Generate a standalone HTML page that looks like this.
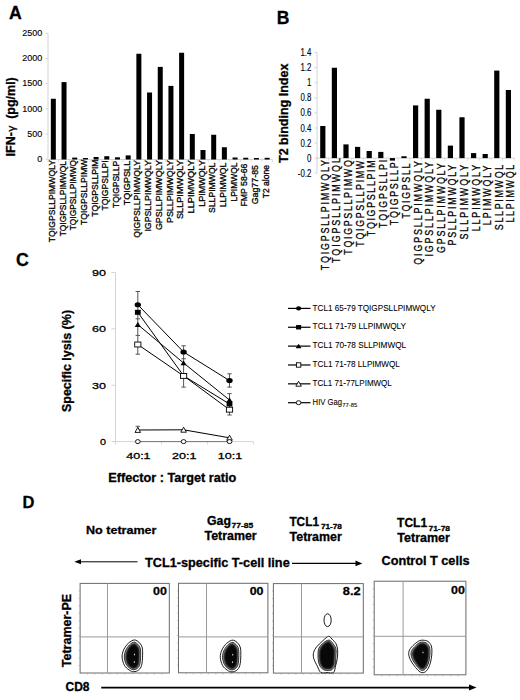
<!DOCTYPE html>
<html><head><meta charset="utf-8"><style>
html,body{margin:0;padding:0;background:#fff;}
svg{display:block;}
text{font-family:"Liberation Sans", sans-serif;}
text{stroke:#000;stroke-width:0.3px;}
text.th{stroke-width:0.08px;}
text.th2{stroke-width:0.12px;}
.bl{}
</style></head><body>
<svg width="520" height="700" viewBox="0 0 520 700">
<rect width="520" height="700" fill="#fff"/>
<text x="9.0" y="18.5" font-size="17.7" font-weight="bold" >A</text>
<line x1="48" y1="33.3" x2="48" y2="159.5" stroke="#d4d4d4" stroke-width="1"/>
<line x1="45.5" y1="159.20" x2="48" y2="159.20" stroke="#d4d4d4" stroke-width="1"/>
<text x="42.3" y="161.90" font-size="9" text-anchor="end" class="th2">0</text>
<line x1="45.5" y1="134.02" x2="48" y2="134.02" stroke="#d4d4d4" stroke-width="1"/>
<text x="42.3" y="136.72" font-size="9" text-anchor="end" class="th2">500</text>
<line x1="45.5" y1="108.84" x2="48" y2="108.84" stroke="#d4d4d4" stroke-width="1"/>
<text x="42.3" y="111.54" font-size="9" text-anchor="end" class="th2">1000</text>
<line x1="45.5" y1="83.66" x2="48" y2="83.66" stroke="#d4d4d4" stroke-width="1"/>
<text x="42.3" y="86.36" font-size="9" text-anchor="end" class="th2">1500</text>
<line x1="45.5" y1="58.48" x2="48" y2="58.48" stroke="#d4d4d4" stroke-width="1"/>
<text x="42.3" y="61.18" font-size="9" text-anchor="end" class="th2">2000</text>
<line x1="45.5" y1="33.30" x2="48" y2="33.30" stroke="#d4d4d4" stroke-width="1"/>
<text x="42.3" y="36.00" font-size="9" text-anchor="end" class="th2">2500</text>
<text transform="translate(14.8,116.8) rotate(-90)" font-size="12.5" font-weight="bold" text-anchor="middle">IFN-<tspan font-weight="normal" font-size="11.5" dx="0.5">&#947;</tspan>&#160; (pg/ml)</text>
<line x1="48" y1="159.5" x2="272.5" y2="159.5" stroke="#d4d4d4" stroke-width="1"/>
<line x1="48.00" y1="159.5" x2="48.00" y2="162.0" stroke="#d4d4d4" stroke-width="0.8"/>
<line x1="58.69" y1="159.5" x2="58.69" y2="162.0" stroke="#d4d4d4" stroke-width="0.8"/>
<line x1="69.38" y1="159.5" x2="69.38" y2="162.0" stroke="#d4d4d4" stroke-width="0.8"/>
<line x1="80.07" y1="159.5" x2="80.07" y2="162.0" stroke="#d4d4d4" stroke-width="0.8"/>
<line x1="90.76" y1="159.5" x2="90.76" y2="162.0" stroke="#d4d4d4" stroke-width="0.8"/>
<line x1="101.45" y1="159.5" x2="101.45" y2="162.0" stroke="#d4d4d4" stroke-width="0.8"/>
<line x1="112.14" y1="159.5" x2="112.14" y2="162.0" stroke="#d4d4d4" stroke-width="0.8"/>
<line x1="122.83" y1="159.5" x2="122.83" y2="162.0" stroke="#d4d4d4" stroke-width="0.8"/>
<line x1="133.52" y1="159.5" x2="133.52" y2="162.0" stroke="#d4d4d4" stroke-width="0.8"/>
<line x1="144.21" y1="159.5" x2="144.21" y2="162.0" stroke="#d4d4d4" stroke-width="0.8"/>
<line x1="154.90" y1="159.5" x2="154.90" y2="162.0" stroke="#d4d4d4" stroke-width="0.8"/>
<line x1="165.59" y1="159.5" x2="165.59" y2="162.0" stroke="#d4d4d4" stroke-width="0.8"/>
<line x1="176.28" y1="159.5" x2="176.28" y2="162.0" stroke="#d4d4d4" stroke-width="0.8"/>
<line x1="186.97" y1="159.5" x2="186.97" y2="162.0" stroke="#d4d4d4" stroke-width="0.8"/>
<line x1="197.66" y1="159.5" x2="197.66" y2="162.0" stroke="#d4d4d4" stroke-width="0.8"/>
<line x1="208.35" y1="159.5" x2="208.35" y2="162.0" stroke="#d4d4d4" stroke-width="0.8"/>
<line x1="219.04" y1="159.5" x2="219.04" y2="162.0" stroke="#d4d4d4" stroke-width="0.8"/>
<line x1="229.73" y1="159.5" x2="229.73" y2="162.0" stroke="#d4d4d4" stroke-width="0.8"/>
<line x1="240.42" y1="159.5" x2="240.42" y2="162.0" stroke="#d4d4d4" stroke-width="0.8"/>
<line x1="251.11" y1="159.5" x2="251.11" y2="162.0" stroke="#d4d4d4" stroke-width="0.8"/>
<line x1="261.80" y1="159.5" x2="261.80" y2="162.0" stroke="#d4d4d4" stroke-width="0.8"/>
<line x1="272.49" y1="159.5" x2="272.49" y2="162.0" stroke="#d4d4d4" stroke-width="0.8"/>
<rect x="50.84" y="98.75" width="5" height="60.75" fill="#000"/>
<text transform="translate(54.95,160.00) rotate(-90) scale(0.9588,1)" font-size="9" text-anchor="end">TQIGPSLLPIMWQLY</text>
<rect x="61.53" y="82.10" width="5" height="77.40" fill="#000"/>
<text transform="translate(65.63,161.10) rotate(-90) scale(0.9362,1)" font-size="9" text-anchor="end">TQIGPSLLPIMWQL</text>
<rect x="72.22" y="157.60" width="5" height="1.90" fill="#000"/>
<text transform="translate(76.32,160.00) rotate(-90) scale(0.9333,1)" font-size="9" text-anchor="end">TQIGPSLLPIMWQ</text>
<rect x="82.91" y="158.00" width="5" height="1.50" fill="#000"/>
<text transform="translate(87.01,159.50) rotate(-90) scale(0.9579,1)" font-size="9" text-anchor="end">TQIGPSLLPIMW</text>
<rect x="93.60" y="157.00" width="5" height="2.50" fill="#000"/>
<text transform="translate(97.70,159.50) rotate(-90) scale(0.9537,1)" font-size="9" text-anchor="end">TQIGPSLLPIM</text>
<rect x="104.29" y="156.20" width="5" height="3.30" fill="#000"/>
<text transform="translate(108.39,160.40) rotate(-90) scale(0.9576,1)" font-size="9" text-anchor="end">TQIGPSLLPI</text>
<rect x="114.98" y="157.30" width="5" height="2.20" fill="#000"/>
<text transform="translate(119.08,160.80) rotate(-90) scale(0.9441,1)" font-size="9" text-anchor="end">TQIGPSLLP</text>
<rect x="125.68" y="155.40" width="5" height="4.10" fill="#000"/>
<text transform="translate(129.78,160.80) rotate(-90) scale(1.0128,1)" font-size="9" text-anchor="end">TQIGPSLL</text>
<rect x="136.37" y="53.75" width="5" height="105.75" fill="#000"/>
<text transform="translate(140.47,160.10) rotate(-90) scale(0.9667,1)" font-size="9" text-anchor="end">QIGPSLLPIMWQLY</text>
<rect x="147.06" y="92.50" width="5" height="67.00" fill="#000"/>
<text transform="translate(151.16,160.10) rotate(-90) scale(0.9773,1)" font-size="9" text-anchor="end">IGPSLLPIMWQLY</text>
<rect x="157.75" y="66.90" width="5" height="92.60" fill="#000"/>
<text transform="translate(161.84,160.10) rotate(-90) scale(0.9892,1)" font-size="9" text-anchor="end">GPSLLPIMWQLY</text>
<rect x="168.44" y="85.90" width="5" height="73.60" fill="#000"/>
<text transform="translate(172.53,160.10) rotate(-90) scale(0.9862,1)" font-size="9" text-anchor="end">PSLLPIMWQLY</text>
<rect x="179.12" y="52.75" width="5" height="106.75" fill="#000"/>
<text transform="translate(183.22,160.10) rotate(-90) scale(1.0216,1)" font-size="9" text-anchor="end">SLLPIMWQLY</text>
<rect x="189.81" y="134.00" width="5" height="25.50" fill="#000"/>
<text transform="translate(193.91,160.10) rotate(-90) scale(1.0300,1)" font-size="9" text-anchor="end">LLPIMWQLY</text>
<rect x="200.50" y="150.00" width="5" height="9.50" fill="#000"/>
<text transform="translate(204.60,160.10) rotate(-90) scale(0.9947,1)" font-size="9" text-anchor="end">LPIMWQLY</text>
<rect x="211.19" y="134.75" width="5" height="24.75" fill="#000"/>
<text transform="translate(215.29,162.60) rotate(-90) scale(0.9596,1)" font-size="9" text-anchor="end">SLLPIMWQL</text>
<rect x="221.88" y="147.25" width="5" height="12.25" fill="#000"/>
<text transform="translate(225.98,162.60) rotate(-90) scale(0.9624,1)" font-size="9" text-anchor="end">LLPIMWQL</text>
<rect x="232.57" y="157.50" width="5" height="2.00" fill="#000"/>
<text transform="translate(236.67,162.60) rotate(-90) scale(0.9375,1)" font-size="9" text-anchor="end">LPIMWQL</text>
<rect x="243.26" y="157.75" width="5" height="1.75" fill="#000"/>
<text transform="translate(247.36,163.60) rotate(-90) scale(0.9705,1)" font-size="9" text-anchor="end">FMP 58-66</text>
<rect x="253.95" y="158.00" width="5" height="1.50" fill="#000"/>
<text transform="translate(258.06,165.00) rotate(-90) scale(0.9844,1)" font-size="9" text-anchor="end">Gag77-85</text>
<rect x="264.64" y="157.80" width="5" height="1.70" fill="#000"/>
<text transform="translate(268.75,165.00) rotate(-90) scale(0.9488,1)" font-size="9" text-anchor="end">T2 alone</text>
<text x="276.8" y="23.75" font-size="17.5" font-weight="bold" >B</text>
<line x1="317" y1="52.54" x2="317" y2="173.18" stroke="#d4d4d4" stroke-width="1"/>
<line x1="314.5" y1="173.18" x2="317" y2="173.18" stroke="#d4d4d4" stroke-width="1"/>
<text x="311.4" y="176.78" font-size="10.1" text-anchor="end" class="th2" transform-origin="311.4 0" style="transform:scaleX(0.78)">-0.2</text>
<line x1="314.5" y1="158.10" x2="317" y2="158.10" stroke="#d4d4d4" stroke-width="1"/>
<text x="311.4" y="161.70" font-size="10.1" text-anchor="end" class="th2" transform-origin="311.4 0" style="transform:scaleX(0.78)">0</text>
<line x1="314.5" y1="143.02" x2="317" y2="143.02" stroke="#d4d4d4" stroke-width="1"/>
<text x="311.4" y="146.62" font-size="10.1" text-anchor="end" class="th2" transform-origin="311.4 0" style="transform:scaleX(0.78)">0.2</text>
<line x1="314.5" y1="127.94" x2="317" y2="127.94" stroke="#d4d4d4" stroke-width="1"/>
<text x="311.4" y="131.54" font-size="10.1" text-anchor="end" class="th2" transform-origin="311.4 0" style="transform:scaleX(0.78)">0.4</text>
<line x1="314.5" y1="112.86" x2="317" y2="112.86" stroke="#d4d4d4" stroke-width="1"/>
<text x="311.4" y="116.46" font-size="10.1" text-anchor="end" class="th2" transform-origin="311.4 0" style="transform:scaleX(0.78)">0.6</text>
<line x1="314.5" y1="97.78" x2="317" y2="97.78" stroke="#d4d4d4" stroke-width="1"/>
<text x="311.4" y="101.38" font-size="10.1" text-anchor="end" class="th2" transform-origin="311.4 0" style="transform:scaleX(0.78)">0.8</text>
<line x1="314.5" y1="82.70" x2="317" y2="82.70" stroke="#d4d4d4" stroke-width="1"/>
<text x="311.4" y="86.30" font-size="10.1" text-anchor="end" class="th2" transform-origin="311.4 0" style="transform:scaleX(0.78)">1</text>
<line x1="314.5" y1="67.62" x2="317" y2="67.62" stroke="#d4d4d4" stroke-width="1"/>
<text x="311.4" y="71.22" font-size="10.1" text-anchor="end" class="th2" transform-origin="311.4 0" style="transform:scaleX(0.78)">1.2</text>
<line x1="314.5" y1="52.54" x2="317" y2="52.54" stroke="#d4d4d4" stroke-width="1"/>
<text x="311.4" y="56.14" font-size="10.1" text-anchor="end" class="th2" transform-origin="311.4 0" style="transform:scaleX(0.78)">1.4</text>
<text transform="translate(288.2,113.3) rotate(-90)" font-size="12.5" font-weight="bold" text-anchor="middle" >T2 binding Index</text>
<line x1="317" y1="158.1" x2="514.4" y2="158.1" stroke="#d4d4d4" stroke-width="1"/>
<line x1="317.00" y1="158.1" x2="317.00" y2="160.6" stroke="#d4d4d4" stroke-width="0.8"/>
<line x1="328.60" y1="158.1" x2="328.60" y2="160.6" stroke="#d4d4d4" stroke-width="0.8"/>
<line x1="340.20" y1="158.1" x2="340.20" y2="160.6" stroke="#d4d4d4" stroke-width="0.8"/>
<line x1="351.80" y1="158.1" x2="351.80" y2="160.6" stroke="#d4d4d4" stroke-width="0.8"/>
<line x1="363.40" y1="158.1" x2="363.40" y2="160.6" stroke="#d4d4d4" stroke-width="0.8"/>
<line x1="375.00" y1="158.1" x2="375.00" y2="160.6" stroke="#d4d4d4" stroke-width="0.8"/>
<line x1="386.60" y1="158.1" x2="386.60" y2="160.6" stroke="#d4d4d4" stroke-width="0.8"/>
<line x1="398.20" y1="158.1" x2="398.20" y2="160.6" stroke="#d4d4d4" stroke-width="0.8"/>
<line x1="409.80" y1="158.1" x2="409.80" y2="160.6" stroke="#d4d4d4" stroke-width="0.8"/>
<line x1="421.40" y1="158.1" x2="421.40" y2="160.6" stroke="#d4d4d4" stroke-width="0.8"/>
<line x1="433.00" y1="158.1" x2="433.00" y2="160.6" stroke="#d4d4d4" stroke-width="0.8"/>
<line x1="444.60" y1="158.1" x2="444.60" y2="160.6" stroke="#d4d4d4" stroke-width="0.8"/>
<line x1="456.20" y1="158.1" x2="456.20" y2="160.6" stroke="#d4d4d4" stroke-width="0.8"/>
<line x1="467.80" y1="158.1" x2="467.80" y2="160.6" stroke="#d4d4d4" stroke-width="0.8"/>
<line x1="479.40" y1="158.1" x2="479.40" y2="160.6" stroke="#d4d4d4" stroke-width="0.8"/>
<line x1="491.00" y1="158.1" x2="491.00" y2="160.6" stroke="#d4d4d4" stroke-width="0.8"/>
<line x1="502.60" y1="158.1" x2="502.60" y2="160.6" stroke="#d4d4d4" stroke-width="0.8"/>
<line x1="514.20" y1="158.1" x2="514.20" y2="160.6" stroke="#d4d4d4" stroke-width="0.8"/>
<rect x="320.20" y="126.00" width="5.2" height="32.10" fill="#000"/>
<text transform="translate(328.70,158.13) rotate(-90) scale(0.78,1)" font-size="11.4" text-anchor="end" letter-spacing="2.345">TQIGPSLLPIMWQLY</text>
<rect x="331.80" y="67.75" width="5.2" height="90.35" fill="#000"/>
<text transform="translate(340.30,156.22) rotate(-90) scale(0.78,1)" font-size="11.4" text-anchor="end" letter-spacing="2.499">TQIGPSLLPIMWQL</text>
<rect x="343.40" y="144.40" width="5.2" height="13.70" fill="#000"/>
<text transform="translate(351.90,158.52) rotate(-90) scale(0.78,1)" font-size="11.4" text-anchor="end" letter-spacing="2.123">TQIGPSLLPIMWQ</text>
<rect x="355.00" y="146.90" width="5.2" height="11.20" fill="#000"/>
<text transform="translate(363.50,159.11) rotate(-90) scale(0.78,1)" font-size="11.4" text-anchor="end" letter-spacing="2.121">TQIGPSLLPIMW</text>
<rect x="366.60" y="151.00" width="5.2" height="7.10" fill="#000"/>
<text transform="translate(375.10,158.72) rotate(-90) scale(0.78,1)" font-size="11.4" text-anchor="end" letter-spacing="2.119">TQIGPSLLPIM</text>
<rect x="378.20" y="151.90" width="5.2" height="6.20" fill="#000"/>
<text transform="translate(386.70,157.96) rotate(-90) scale(0.78,1)" font-size="11.4" text-anchor="end" letter-spacing="2.344">TQIGPSLLPI</text>
<rect x="389.80" y="158.10" width="5.2" height="2.50" fill="#000"/>
<text transform="translate(398.30,160.71) rotate(-90) scale(0.78,1)" font-size="11.4" text-anchor="end" letter-spacing="2.144">TQIGPSLLP</text>
<rect x="401.40" y="156.25" width="5.2" height="1.85" fill="#000"/>
<text transform="translate(409.90,161.93) rotate(-90) scale(0.78,1)" font-size="11.4" text-anchor="end" letter-spacing="2.106">TQIGPSLL</text>
<rect x="413.00" y="105.40" width="5.2" height="52.70" fill="#000"/>
<text transform="translate(421.50,159.10) rotate(-90) scale(0.78,1)" font-size="11.4" text-anchor="end" letter-spacing="2.400">QIGPSLLPIMWQLY</text>
<rect x="424.60" y="98.75" width="5.2" height="59.35" fill="#000"/>
<text transform="translate(433.10,160.14) rotate(-90) scale(0.78,1)" font-size="11.4" text-anchor="end" letter-spacing="2.356">IGPSLLPIMWQLY</text>
<rect x="436.20" y="109.75" width="5.2" height="48.35" fill="#000"/>
<text transform="translate(444.70,161.60) rotate(-90) scale(0.78,1)" font-size="11.4" text-anchor="end" letter-spacing="2.284">GPSLLPIMWQLY</text>
<rect x="447.80" y="145.60" width="5.2" height="12.50" fill="#000"/>
<text transform="translate(456.30,163.00) rotate(-90) scale(0.78,1)" font-size="11.4" text-anchor="end" letter-spacing="2.272">PSLLPIMWQLY</text>
<rect x="459.40" y="117.25" width="5.2" height="40.85" fill="#000"/>
<text transform="translate(467.90,162.82) rotate(-90) scale(0.78,1)" font-size="11.4" text-anchor="end" letter-spacing="2.513">SLLPIMWQLY</text>
<rect x="471.00" y="153.10" width="5.2" height="5.00" fill="#000"/>
<text transform="translate(479.50,162.85) rotate(-90) scale(0.78,1)" font-size="11.4" text-anchor="end" letter-spacing="2.464">LLPIMWQLY</text>
<rect x="482.60" y="154.00" width="5.2" height="4.10" fill="#000"/>
<text transform="translate(491.10,163.68) rotate(-90) scale(0.78,1)" font-size="11.4" text-anchor="end" letter-spacing="2.437">LPIMWQLY</text>
<rect x="494.20" y="70.60" width="5.2" height="87.50" fill="#000"/>
<text transform="translate(502.70,163.07) rotate(-90) scale(0.78,1)" font-size="11.4" text-anchor="end" letter-spacing="2.176">SLLPIMWQL</text>
<rect x="505.80" y="90.00" width="5.2" height="68.10" fill="#000"/>
<text transform="translate(514.30,163.07) rotate(-90) scale(0.78,1)" font-size="11.4" text-anchor="end" letter-spacing="2.180">LLPIMWQL</text>
<text x="16.1" y="266.3" font-size="17.7" font-weight="bold" >C</text>
<line x1="115.5" y1="272.5" x2="115.5" y2="444" stroke="#d4d4d4" stroke-width="1"/>
<line x1="111.5" y1="441.60" x2="115.5" y2="441.60" stroke="#d4d4d4" stroke-width="1"/>
<text x="105.9" y="445.00" font-size="9.6" text-anchor="end" textLength="6.0" lengthAdjust="spacingAndGlyphs" >0</text>
<line x1="111.5" y1="385.23" x2="115.5" y2="385.23" stroke="#d4d4d4" stroke-width="1"/>
<text x="105.9" y="388.63" font-size="9.6" text-anchor="end" textLength="14.0" lengthAdjust="spacingAndGlyphs" >30</text>
<line x1="111.5" y1="328.86" x2="115.5" y2="328.86" stroke="#d4d4d4" stroke-width="1"/>
<text x="105.9" y="332.26" font-size="9.6" text-anchor="end" textLength="14.0" lengthAdjust="spacingAndGlyphs" >60</text>
<line x1="111.5" y1="272.49" x2="115.5" y2="272.49" stroke="#d4d4d4" stroke-width="1"/>
<text x="105.9" y="275.89" font-size="9.6" text-anchor="end" textLength="14.0" lengthAdjust="spacingAndGlyphs" >90</text>
<line x1="112.5" y1="441.6" x2="253.4" y2="441.6" stroke="#d4d4d4" stroke-width="1"/>
<line x1="115.50" y1="441.6" x2="115.50" y2="444.6" stroke="#d4d4d4" stroke-width="0.8"/>
<line x1="161.50" y1="441.6" x2="161.50" y2="444.6" stroke="#d4d4d4" stroke-width="0.8"/>
<line x1="207.50" y1="441.6" x2="207.50" y2="444.6" stroke="#d4d4d4" stroke-width="0.8"/>
<line x1="253.50" y1="441.6" x2="253.50" y2="444.6" stroke="#d4d4d4" stroke-width="0.8"/>
<text x="138.4" y="459.0" font-size="9.6" text-anchor="middle" textLength="24.5" lengthAdjust="spacingAndGlyphs" >40:1</text>
<text x="184.2" y="459.0" font-size="9.6" text-anchor="middle" textLength="24.5" lengthAdjust="spacingAndGlyphs" >20:1</text>
<text x="230.1" y="459.0" font-size="9.6" text-anchor="middle" textLength="24.5" lengthAdjust="spacingAndGlyphs" >10:1</text>
<text x="108.3" y="482.1" font-size="12.5" font-weight="bold" textLength="128" lengthAdjust="spacingAndGlyphs" >Effector : Target ratio</text>
<text transform="translate(71.1,361) rotate(-90)" font-size="12.5" font-weight="bold" text-anchor="middle" >Specific lysis (%)</text>
<g stroke="#555" stroke-width="1" fill="none">
<line x1="137.8" y1="291.5" x2="137.8" y2="354.2"/>
<line x1="183.6" y1="345.8" x2="183.6" y2="387.1"/>
<line x1="229.5" y1="373.8" x2="229.5" y2="387.1"/>
<line x1="229.5" y1="393.6" x2="229.5" y2="415.0"/>
<line x1="137.8" y1="426.3" x2="137.8" y2="430"/>
<line x1="135.60000000000002" y1="291.5" x2="140.0" y2="291.5"/>
<line x1="135.60000000000002" y1="318.8" x2="140.0" y2="318.8"/>
<line x1="135.60000000000002" y1="335.4" x2="140.0" y2="335.4"/>
<line x1="135.60000000000002" y1="354.2" x2="140.0" y2="354.2"/>
<line x1="135.60000000000002" y1="426.3" x2="140.0" y2="426.3"/>
<line x1="181.4" y1="345.8" x2="185.79999999999998" y2="345.8"/>
<line x1="181.4" y1="358.75" x2="185.79999999999998" y2="358.75"/>
<line x1="181.4" y1="387.1" x2="185.79999999999998" y2="387.1"/>
<line x1="227.3" y1="373.8" x2="231.7" y2="373.8"/>
<line x1="227.3" y1="387.1" x2="231.7" y2="387.1"/>
<line x1="227.3" y1="393.6" x2="231.7" y2="393.6"/>
<line x1="227.3" y1="415.0" x2="231.7" y2="415.0"/>
</g>
<g stroke="#000" stroke-width="1" fill="none">
<polyline points="137.8,304.75 183.6,352.0 229.5,380.6"/>
<polyline points="137.8,312.3 183.6,375.8 229.5,404.0"/>
<polyline points="137.8,324.6 183.6,363.0 229.5,400.0"/>
<polyline points="137.8,344.5 183.6,375.9 229.5,409.7"/>
<polyline points="137.8,430.0 183.6,429.8 229.5,437.8"/>
<polyline points="137.8,441.6 183.6,441.6 229.5,441.6" stroke="#777"/>
</g>
<ellipse cx="137.8" cy="304.75" rx="3.2" ry="2.6" fill="#000"/>
<ellipse cx="183.6" cy="352.0" rx="3.2" ry="2.6" fill="#000"/>
<ellipse cx="229.5" cy="380.6" rx="3.2" ry="2.6" fill="#000"/>
<rect x="134.9" y="309.8" width="5.8" height="5.0" fill="#000"/>
<rect x="180.7" y="373.3" width="5.8" height="5.0" fill="#000"/>
<rect x="226.6" y="401.5" width="5.8" height="5.0" fill="#000"/>
<path d="M137.8,322.0 L140.9,326.90000000000003 L134.70000000000002,326.90000000000003Z" fill="#000"/>
<path d="M183.6,360.4 L186.7,365.3 L180.5,365.3Z" fill="#000"/>
<path d="M229.5,397.4 L232.6,402.3 L226.4,402.3Z" fill="#000"/>
<rect x="134.70000000000002" y="342.05" width="6.2" height="4.9" fill="#fff" stroke="#000" stroke-width="0.9"/>
<rect x="180.5" y="373.45" width="6.2" height="4.9" fill="#fff" stroke="#000" stroke-width="0.9"/>
<rect x="226.4" y="407.25" width="6.2" height="4.9" fill="#fff" stroke="#000" stroke-width="0.9"/>
<path d="M137.8,427.4 L140.60000000000002,432.4 L135.0,432.4Z" fill="#fff" stroke="#000" stroke-width="0.9"/>
<path d="M183.6,427.2 L186.4,432.2 L180.79999999999998,432.2Z" fill="#fff" stroke="#000" stroke-width="0.9"/>
<path d="M229.5,435.2 L232.3,440.2 L226.7,440.2Z" fill="#fff" stroke="#000" stroke-width="0.9"/>
<ellipse cx="137.8" cy="441.6" rx="2.4" ry="2.0" fill="#fff" stroke="#000" stroke-width="0.9"/>
<ellipse cx="183.6" cy="441.6" rx="2.4" ry="2.0" fill="#fff" stroke="#000" stroke-width="0.9"/>
<ellipse cx="229.5" cy="441.6" rx="2.4" ry="2.0" fill="#fff" stroke="#000" stroke-width="0.9"/>
<line x1="288" y1="308.40" x2="310.5" y2="308.40" stroke="#000" stroke-width="1.2"/>
<ellipse cx="298.6" cy="308.4" rx="2.5600000000000005" ry="2.08" fill="#000"/>
<text x="312.6" y="310.50" font-size="8.7" textLength="123" lengthAdjust="spacingAndGlyphs" class="th">TCL1 65-79 TQIGPSLLPIMWQLY</text>
<line x1="288" y1="327.26" x2="310.5" y2="327.26" stroke="#000" stroke-width="1.2"/>
<rect x="296.048" y="325.06" width="5.104" height="4.4" fill="#000"/>
<text x="312.6" y="329.36" font-size="8.7" textLength="93.5" lengthAdjust="spacingAndGlyphs" class="th">TCL1 71-79 LLPIMWQLY</text>
<line x1="288" y1="346.12" x2="310.5" y2="346.12" stroke="#000" stroke-width="1.2"/>
<path d="M298.6,343.65 L301.545,348.305 L295.65500000000003,348.305Z" fill="#000"/>
<text x="312.6" y="348.22" font-size="8.7" textLength="93.5" lengthAdjust="spacingAndGlyphs" class="th">TCL1 70-78 SLLPIMWQL</text>
<line x1="288" y1="364.98" x2="310.5" y2="364.98" stroke="#000" stroke-width="1.2"/>
<rect x="296.4" y="362.78" width="4.4" height="4.4" fill="#fff" stroke="#000" stroke-width="0.9"/>
<text x="312.6" y="367.08" font-size="8.7" textLength="87.3" lengthAdjust="spacingAndGlyphs" class="th">TCL1 71-78 LLPIMWQL</text>
<line x1="288" y1="383.84" x2="310.5" y2="383.84" stroke="#000" stroke-width="1.2"/>
<path d="M298.6,381.292 L301.34400000000005,386.19199999999995 L295.856,386.19199999999995Z" fill="#fff" stroke="#000" stroke-width="0.9"/>
<text x="312.6" y="385.94" font-size="8.7" textLength="79.2" lengthAdjust="spacingAndGlyphs" class="th">TCL1 71-77LPIMWQL</text>
<line x1="288" y1="402.70" x2="310.5" y2="402.70" stroke="#000" stroke-width="1.2"/>
<ellipse cx="298.6" cy="402.7" rx="2.4" ry="2.0" fill="#fff" stroke="#000" stroke-width="0.9"/>
<text class="th" x="312.6" y="404.80" font-size="8.7" textLength="29.5" lengthAdjust="spacingAndGlyphs">HIV Gag</text>
<text class="th" x="342.3" y="406.60" font-size="6" textLength="15" lengthAdjust="spacingAndGlyphs">77-85</text>
<text x="22.5" y="507.5" font-size="16.5" font-weight="bold" >D</text>
<text x="86.0" y="533.6" font-size="11.8" font-weight="bold" textLength="70.5" lengthAdjust="spacingAndGlyphs" >No tetramer</text>
<text x="207.0" y="524.9" font-size="12" font-weight="bold" textLength="23.9" lengthAdjust="spacingAndGlyphs" >Gag</text>
<text x="231.6" y="528.1" font-size="8" font-weight="bold" textLength="21.6" lengthAdjust="spacingAndGlyphs" >77-85</text>
<text x="204.5" y="539.6" font-size="12" font-weight="bold" textLength="52.2" lengthAdjust="spacingAndGlyphs" >Tetramer</text>
<text x="289.4" y="525.6" font-size="12" font-weight="bold" textLength="29.6" lengthAdjust="spacingAndGlyphs" >TCL1</text>
<text x="320.9" y="529.3" font-size="8" font-weight="bold" textLength="21.0" lengthAdjust="spacingAndGlyphs" >71-78</text>
<text x="289.6" y="540.8" font-size="12" font-weight="bold" textLength="52.2" lengthAdjust="spacingAndGlyphs" >Tetramer</text>
<text x="397.0" y="526.8" font-size="12" font-weight="bold" textLength="30.2" lengthAdjust="spacingAndGlyphs" >TCL1</text>
<text x="428.5" y="530.5" font-size="8" font-weight="bold" textLength="21.5" lengthAdjust="spacingAndGlyphs" >71-78</text>
<text x="397.3" y="541.6" font-size="12" font-weight="bold" textLength="52.6" lengthAdjust="spacingAndGlyphs" >Tetramer</text>
<text x="381.5" y="565.2" font-size="12" font-weight="bold" textLength="88" lengthAdjust="spacingAndGlyphs" >Control T cells</text>
<text x="145.0" y="567.0" font-size="12.5" font-weight="bold" textLength="144.7" lengthAdjust="spacingAndGlyphs" >TCL1-specific T-cell line</text>
<line x1="79" y1="561.8" x2="137.5" y2="561.8" stroke="#000" stroke-width="1"/>
<path d="M74.3,561.8 L81,559.3 L81,564.3Z" fill="#000"/>
<line x1="292" y1="563.3" x2="357" y2="563.3" stroke="#000" stroke-width="1.2"/>
<path d="M362.3,563.4 L355.5,560.5 L355.5,566.3Z" fill="#000"/>
<line x1="101.2" y1="687.7" x2="470" y2="687.7" stroke="#000" stroke-width="1.7"/>
<path d="M476.5,687.5 L469,684.5 L469,690.5Z" fill="#000"/>
<text x="65.5" y="691.3" font-size="12" font-weight="bold" >CD8</text>
<text transform="translate(71.3,630.5) rotate(-90)" font-size="12.5" font-weight="bold" text-anchor="middle" >Tetramer-PE</text>
<rect x="80.1" y="583.4" width="89.20" height="89.60" fill="none" stroke="#6a6a6a" stroke-width="1"/>
<line x1="107.5" y1="583.4" x2="107.5" y2="673.0" stroke="#9a9a9a" stroke-width="1"/>
<line x1="80.1" y1="636.9" x2="169.3" y2="636.9" stroke="#9a9a9a" stroke-width="1"/>
<line x1="80.1" y1="590.9" x2="78.6" y2="590.9" stroke="#999" stroke-width="0.6"/>
<line x1="87.5" y1="673.0" x2="87.5" y2="674.5" stroke="#999" stroke-width="0.6"/>
<line x1="80.1" y1="598.3" x2="78.6" y2="598.3" stroke="#999" stroke-width="0.6"/>
<line x1="95.0" y1="673.0" x2="95.0" y2="674.5" stroke="#999" stroke-width="0.6"/>
<line x1="80.1" y1="605.8" x2="78.6" y2="605.8" stroke="#999" stroke-width="0.6"/>
<line x1="102.4" y1="673.0" x2="102.4" y2="674.5" stroke="#999" stroke-width="0.6"/>
<line x1="80.1" y1="613.3" x2="78.6" y2="613.3" stroke="#999" stroke-width="0.6"/>
<line x1="109.8" y1="673.0" x2="109.8" y2="674.5" stroke="#999" stroke-width="0.6"/>
<line x1="80.1" y1="620.7" x2="78.6" y2="620.7" stroke="#999" stroke-width="0.6"/>
<line x1="117.3" y1="673.0" x2="117.3" y2="674.5" stroke="#999" stroke-width="0.6"/>
<line x1="80.1" y1="628.2" x2="78.6" y2="628.2" stroke="#999" stroke-width="0.6"/>
<line x1="124.7" y1="673.0" x2="124.7" y2="674.5" stroke="#999" stroke-width="0.6"/>
<line x1="80.1" y1="635.7" x2="78.6" y2="635.7" stroke="#999" stroke-width="0.6"/>
<line x1="132.1" y1="673.0" x2="132.1" y2="674.5" stroke="#999" stroke-width="0.6"/>
<line x1="80.1" y1="643.1" x2="78.6" y2="643.1" stroke="#999" stroke-width="0.6"/>
<line x1="139.6" y1="673.0" x2="139.6" y2="674.5" stroke="#999" stroke-width="0.6"/>
<line x1="80.1" y1="650.6" x2="78.6" y2="650.6" stroke="#999" stroke-width="0.6"/>
<line x1="147.0" y1="673.0" x2="147.0" y2="674.5" stroke="#999" stroke-width="0.6"/>
<line x1="80.1" y1="658.1" x2="78.6" y2="658.1" stroke="#999" stroke-width="0.6"/>
<line x1="154.4" y1="673.0" x2="154.4" y2="674.5" stroke="#999" stroke-width="0.6"/>
<line x1="80.1" y1="665.5" x2="78.6" y2="665.5" stroke="#999" stroke-width="0.6"/>
<line x1="161.9" y1="673.0" x2="161.9" y2="674.5" stroke="#999" stroke-width="0.6"/>
<text x="166.9" y="594.7" font-size="11.8" font-weight="bold" text-anchor="end" textLength="13.8" lengthAdjust="spacingAndGlyphs" >00</text>
<rect x="178.5" y="583.3" width="89.40" height="89.50" fill="none" stroke="#6a6a6a" stroke-width="1"/>
<line x1="206.5" y1="583.3" x2="206.5" y2="672.8" stroke="#9a9a9a" stroke-width="1"/>
<line x1="178.5" y1="636.9" x2="267.9" y2="636.9" stroke="#9a9a9a" stroke-width="1"/>
<line x1="178.5" y1="590.8" x2="177.0" y2="590.8" stroke="#999" stroke-width="0.6"/>
<line x1="185.9" y1="672.8" x2="185.9" y2="674.3" stroke="#999" stroke-width="0.6"/>
<line x1="178.5" y1="598.2" x2="177.0" y2="598.2" stroke="#999" stroke-width="0.6"/>
<line x1="193.4" y1="672.8" x2="193.4" y2="674.3" stroke="#999" stroke-width="0.6"/>
<line x1="178.5" y1="605.7" x2="177.0" y2="605.7" stroke="#999" stroke-width="0.6"/>
<line x1="200.8" y1="672.8" x2="200.8" y2="674.3" stroke="#999" stroke-width="0.6"/>
<line x1="178.5" y1="613.1" x2="177.0" y2="613.1" stroke="#999" stroke-width="0.6"/>
<line x1="208.3" y1="672.8" x2="208.3" y2="674.3" stroke="#999" stroke-width="0.6"/>
<line x1="178.5" y1="620.6" x2="177.0" y2="620.6" stroke="#999" stroke-width="0.6"/>
<line x1="215.8" y1="672.8" x2="215.8" y2="674.3" stroke="#999" stroke-width="0.6"/>
<line x1="178.5" y1="628.0" x2="177.0" y2="628.0" stroke="#999" stroke-width="0.6"/>
<line x1="223.2" y1="672.8" x2="223.2" y2="674.3" stroke="#999" stroke-width="0.6"/>
<line x1="178.5" y1="635.5" x2="177.0" y2="635.5" stroke="#999" stroke-width="0.6"/>
<line x1="230.6" y1="672.8" x2="230.6" y2="674.3" stroke="#999" stroke-width="0.6"/>
<line x1="178.5" y1="643.0" x2="177.0" y2="643.0" stroke="#999" stroke-width="0.6"/>
<line x1="238.1" y1="672.8" x2="238.1" y2="674.3" stroke="#999" stroke-width="0.6"/>
<line x1="178.5" y1="650.4" x2="177.0" y2="650.4" stroke="#999" stroke-width="0.6"/>
<line x1="245.5" y1="672.8" x2="245.5" y2="674.3" stroke="#999" stroke-width="0.6"/>
<line x1="178.5" y1="657.9" x2="177.0" y2="657.9" stroke="#999" stroke-width="0.6"/>
<line x1="253.0" y1="672.8" x2="253.0" y2="674.3" stroke="#999" stroke-width="0.6"/>
<line x1="178.5" y1="665.3" x2="177.0" y2="665.3" stroke="#999" stroke-width="0.6"/>
<line x1="260.4" y1="672.8" x2="260.4" y2="674.3" stroke="#999" stroke-width="0.6"/>
<text x="263.5" y="594.6" font-size="11.8" font-weight="bold" text-anchor="end" textLength="13.8" lengthAdjust="spacingAndGlyphs" >00</text>
<rect x="273.4" y="583.6" width="89.90" height="89.50" fill="none" stroke="#6a6a6a" stroke-width="1"/>
<line x1="301.5" y1="583.6" x2="301.5" y2="673.1" stroke="#9a9a9a" stroke-width="1"/>
<line x1="273.4" y1="636.9" x2="363.3" y2="636.9" stroke="#9a9a9a" stroke-width="1"/>
<line x1="273.4" y1="591.1" x2="271.9" y2="591.1" stroke="#999" stroke-width="0.6"/>
<line x1="280.9" y1="673.1" x2="280.9" y2="674.6" stroke="#999" stroke-width="0.6"/>
<line x1="273.4" y1="598.5" x2="271.9" y2="598.5" stroke="#999" stroke-width="0.6"/>
<line x1="288.4" y1="673.1" x2="288.4" y2="674.6" stroke="#999" stroke-width="0.6"/>
<line x1="273.4" y1="606.0" x2="271.9" y2="606.0" stroke="#999" stroke-width="0.6"/>
<line x1="295.9" y1="673.1" x2="295.9" y2="674.6" stroke="#999" stroke-width="0.6"/>
<line x1="273.4" y1="613.4" x2="271.9" y2="613.4" stroke="#999" stroke-width="0.6"/>
<line x1="303.4" y1="673.1" x2="303.4" y2="674.6" stroke="#999" stroke-width="0.6"/>
<line x1="273.4" y1="620.9" x2="271.9" y2="620.9" stroke="#999" stroke-width="0.6"/>
<line x1="310.9" y1="673.1" x2="310.9" y2="674.6" stroke="#999" stroke-width="0.6"/>
<line x1="273.4" y1="628.4" x2="271.9" y2="628.4" stroke="#999" stroke-width="0.6"/>
<line x1="318.4" y1="673.1" x2="318.4" y2="674.6" stroke="#999" stroke-width="0.6"/>
<line x1="273.4" y1="635.8" x2="271.9" y2="635.8" stroke="#999" stroke-width="0.6"/>
<line x1="325.8" y1="673.1" x2="325.8" y2="674.6" stroke="#999" stroke-width="0.6"/>
<line x1="273.4" y1="643.3" x2="271.9" y2="643.3" stroke="#999" stroke-width="0.6"/>
<line x1="333.3" y1="673.1" x2="333.3" y2="674.6" stroke="#999" stroke-width="0.6"/>
<line x1="273.4" y1="650.7" x2="271.9" y2="650.7" stroke="#999" stroke-width="0.6"/>
<line x1="340.8" y1="673.1" x2="340.8" y2="674.6" stroke="#999" stroke-width="0.6"/>
<line x1="273.4" y1="658.2" x2="271.9" y2="658.2" stroke="#999" stroke-width="0.6"/>
<line x1="348.3" y1="673.1" x2="348.3" y2="674.6" stroke="#999" stroke-width="0.6"/>
<line x1="273.4" y1="665.6" x2="271.9" y2="665.6" stroke="#999" stroke-width="0.6"/>
<line x1="355.8" y1="673.1" x2="355.8" y2="674.6" stroke="#999" stroke-width="0.6"/>
<text x="360.6" y="594.9" font-size="11.8" font-weight="bold" text-anchor="end" textLength="17.8" lengthAdjust="spacingAndGlyphs" >8.2</text>
<rect x="374.2" y="581.2" width="91.70" height="93.60" fill="none" stroke="#6a6a6a" stroke-width="1"/>
<line x1="403.1" y1="581.2" x2="403.1" y2="674.8" stroke="#9a9a9a" stroke-width="1"/>
<line x1="374.2" y1="636.3" x2="465.9" y2="636.3" stroke="#9a9a9a" stroke-width="1"/>
<line x1="374.2" y1="589.0" x2="372.7" y2="589.0" stroke="#999" stroke-width="0.6"/>
<line x1="381.8" y1="674.8" x2="381.8" y2="676.3" stroke="#999" stroke-width="0.6"/>
<line x1="374.2" y1="596.8" x2="372.7" y2="596.8" stroke="#999" stroke-width="0.6"/>
<line x1="389.5" y1="674.8" x2="389.5" y2="676.3" stroke="#999" stroke-width="0.6"/>
<line x1="374.2" y1="604.6" x2="372.7" y2="604.6" stroke="#999" stroke-width="0.6"/>
<line x1="397.1" y1="674.8" x2="397.1" y2="676.3" stroke="#999" stroke-width="0.6"/>
<line x1="374.2" y1="612.4" x2="372.7" y2="612.4" stroke="#999" stroke-width="0.6"/>
<line x1="404.8" y1="674.8" x2="404.8" y2="676.3" stroke="#999" stroke-width="0.6"/>
<line x1="374.2" y1="620.2" x2="372.7" y2="620.2" stroke="#999" stroke-width="0.6"/>
<line x1="412.4" y1="674.8" x2="412.4" y2="676.3" stroke="#999" stroke-width="0.6"/>
<line x1="374.2" y1="628.0" x2="372.7" y2="628.0" stroke="#999" stroke-width="0.6"/>
<line x1="420.0" y1="674.8" x2="420.0" y2="676.3" stroke="#999" stroke-width="0.6"/>
<line x1="374.2" y1="635.8" x2="372.7" y2="635.8" stroke="#999" stroke-width="0.6"/>
<line x1="427.7" y1="674.8" x2="427.7" y2="676.3" stroke="#999" stroke-width="0.6"/>
<line x1="374.2" y1="643.6" x2="372.7" y2="643.6" stroke="#999" stroke-width="0.6"/>
<line x1="435.3" y1="674.8" x2="435.3" y2="676.3" stroke="#999" stroke-width="0.6"/>
<line x1="374.2" y1="651.4" x2="372.7" y2="651.4" stroke="#999" stroke-width="0.6"/>
<line x1="443.0" y1="674.8" x2="443.0" y2="676.3" stroke="#999" stroke-width="0.6"/>
<line x1="374.2" y1="659.2" x2="372.7" y2="659.2" stroke="#999" stroke-width="0.6"/>
<line x1="450.6" y1="674.8" x2="450.6" y2="676.3" stroke="#999" stroke-width="0.6"/>
<line x1="374.2" y1="667.0" x2="372.7" y2="667.0" stroke="#999" stroke-width="0.6"/>
<line x1="458.3" y1="674.8" x2="458.3" y2="676.3" stroke="#999" stroke-width="0.6"/>
<text x="464.90000000000003" y="593.5" font-size="11.8" font-weight="bold" text-anchor="end" textLength="13.8" lengthAdjust="spacingAndGlyphs" >00</text>
<path d="M135.20,640.00 C137.38,640.45 140.37,643.27 141.60,645.80 C142.83,648.33 142.60,651.95 142.60,655.20 C142.60,658.45 142.27,662.83 141.60,665.30 C140.93,667.77 139.90,668.93 138.60,670.00 C137.30,671.07 135.38,671.70 133.80,671.70 C132.22,671.70 130.67,671.07 129.10,670.00 C127.53,668.93 125.57,667.43 124.40,665.30 C123.23,663.17 122.22,659.78 122.10,657.20 C121.98,654.62 122.63,652.15 123.70,649.80 C124.77,647.45 126.58,644.73 128.50,643.10 C130.42,641.47 133.02,639.55 135.20,640.00Z" fill="#fff" stroke="#000" stroke-width="0.9"/>
<path d="M134.75,642.25 C136.49,642.64 138.86,645.09 139.84,647.28 C140.82,649.48 140.63,652.62 140.63,655.44 C140.63,658.26 140.37,662.06 139.84,664.20 C139.31,666.34 138.49,667.35 137.45,668.28 C136.42,669.20 134.90,669.75 133.64,669.75 C132.38,669.75 131.14,669.20 129.90,668.28 C128.65,667.35 127.09,666.05 126.16,664.20 C125.23,662.35 124.43,659.41 124.33,657.17 C124.24,654.93 124.76,652.79 125.61,650.75 C126.45,648.72 127.90,646.36 129.42,644.94 C130.95,643.52 133.01,641.86 134.75,642.25Z" fill="#999" stroke="#111" stroke-width="0.85"/>
<path d="M134.56,643.22 C136.10,643.58 138.21,645.87 139.08,647.92 C139.96,649.97 139.79,652.91 139.79,655.54 C139.79,658.18 139.55,661.73 139.08,663.73 C138.61,665.73 137.88,666.67 136.96,667.54 C136.04,668.40 134.69,668.92 133.57,668.92 C132.45,668.92 131.35,668.40 130.24,667.54 C129.13,666.67 127.74,665.46 126.92,663.73 C126.09,662.00 125.37,659.26 125.29,657.16 C125.21,655.07 125.67,653.07 126.42,651.16 C127.18,649.26 128.46,647.06 129.82,645.73 C131.17,644.41 133.01,642.85 134.56,643.22Z" fill="#444"/>
<path d="M134.36,644.18 C135.72,644.52 137.56,646.65 138.33,648.56 C139.09,650.47 138.95,653.19 138.95,655.64 C138.95,658.09 138.74,661.40 138.33,663.26 C137.91,665.12 137.27,666.00 136.47,666.80 C135.66,667.61 134.48,668.08 133.50,668.08 C132.51,668.08 131.55,667.61 130.58,666.80 C129.61,666.00 128.39,664.87 127.67,663.26 C126.95,661.65 126.32,659.10 126.25,657.15 C126.18,655.20 126.58,653.34 127.24,651.57 C127.90,649.80 129.02,647.75 130.21,646.52 C131.40,645.29 133.01,643.84 134.36,644.18Z" fill="#1a1a1a"/>
<path d="M134.13,645.36 C135.25,645.67 136.77,647.60 137.40,649.33 C138.04,651.07 137.92,653.54 137.92,655.77 C137.92,657.99 137.75,660.99 137.40,662.68 C137.06,664.37 136.53,665.17 135.87,665.90 C135.20,666.63 134.22,667.06 133.41,667.06 C132.60,667.06 131.80,666.63 131.00,665.90 C130.20,665.17 129.19,664.14 128.60,662.68 C128.00,661.22 127.48,658.91 127.42,657.14 C127.36,655.37 127.69,653.68 128.24,652.07 C128.78,650.46 129.71,648.60 130.70,647.48 C131.68,646.37 133.01,645.05 134.13,645.36Z" fill="#080808"/>
<ellipse cx="134.5" cy="654.5" rx="0.6" ry="0.9" fill="#ccc"/>
<ellipse cx="134.3" cy="662" rx="0.6" ry="0.9" fill="#ccc"/>
<path d="M233.40,640.20 C235.58,640.65 238.57,643.47 239.80,646.00 C241.03,648.53 240.80,652.15 240.80,655.40 C240.80,658.65 240.47,663.03 239.80,665.50 C239.13,667.97 238.10,669.13 236.80,670.20 C235.50,671.27 233.58,671.90 232.00,671.90 C230.42,671.90 228.87,671.27 227.30,670.20 C225.73,669.13 223.77,667.63 222.60,665.50 C221.43,663.37 220.42,659.98 220.30,657.40 C220.18,654.82 220.83,652.35 221.90,650.00 C222.97,647.65 224.78,644.93 226.70,643.30 C228.62,641.67 231.22,639.75 233.40,640.20Z" fill="#fff" stroke="#000" stroke-width="0.9"/>
<path d="M232.95,642.45 C234.69,642.84 237.06,645.29 238.04,647.48 C239.02,649.68 238.83,652.82 238.83,655.64 C238.83,658.46 238.57,662.26 238.04,664.40 C237.51,666.54 236.69,667.55 235.65,668.48 C234.62,669.40 233.10,669.95 231.84,669.95 C230.58,669.95 229.34,669.40 228.10,668.48 C226.85,667.55 225.29,666.25 224.36,664.40 C223.43,662.55 222.63,659.61 222.53,657.37 C222.44,655.13 222.96,652.99 223.81,650.95 C224.65,648.92 226.10,646.56 227.62,645.14 C229.15,643.72 231.21,642.06 232.95,642.45Z" fill="#999" stroke="#111" stroke-width="0.85"/>
<path d="M232.76,643.42 C234.30,643.78 236.41,646.07 237.28,648.12 C238.16,650.17 237.99,653.11 237.99,655.74 C237.99,658.38 237.75,661.93 237.28,663.93 C236.81,665.93 236.08,666.87 235.16,667.74 C234.24,668.60 232.89,669.12 231.77,669.12 C230.65,669.12 229.55,668.60 228.44,667.74 C227.33,666.87 225.94,665.66 225.12,663.93 C224.29,662.20 223.57,659.46 223.49,657.36 C223.41,655.27 223.87,653.27 224.62,651.36 C225.38,649.46 226.66,647.26 228.02,645.93 C229.37,644.61 231.21,643.05 232.76,643.42Z" fill="#444"/>
<path d="M232.56,644.38 C233.92,644.72 235.76,646.85 236.53,648.76 C237.29,650.67 237.15,653.39 237.15,655.84 C237.15,658.29 236.94,661.60 236.53,663.46 C236.11,665.32 235.47,666.20 234.67,667.00 C233.86,667.81 232.68,668.28 231.70,668.28 C230.71,668.28 229.75,667.81 228.78,667.00 C227.81,666.20 226.59,665.07 225.87,663.46 C225.15,661.85 224.52,659.30 224.45,657.35 C224.38,655.40 224.78,653.54 225.44,651.77 C226.10,650.00 227.22,647.95 228.41,646.72 C229.60,645.49 231.21,644.04 232.56,644.38Z" fill="#1a1a1a"/>
<path d="M232.33,645.56 C233.45,645.87 234.97,647.80 235.60,649.53 C236.24,651.27 236.12,653.74 236.12,655.97 C236.12,658.19 235.95,661.19 235.60,662.88 C235.26,664.57 234.73,665.37 234.07,666.10 C233.40,666.83 232.42,667.26 231.61,667.26 C230.80,667.26 230.00,666.83 229.20,666.10 C228.40,665.37 227.39,664.34 226.80,662.88 C226.20,661.42 225.68,659.11 225.62,657.34 C225.56,655.57 225.89,653.88 226.44,652.27 C226.98,650.66 227.91,648.80 228.90,647.68 C229.88,646.57 231.21,645.25 232.33,645.56Z" fill="#080808"/>
<ellipse cx="232.7" cy="654.7" rx="0.6" ry="0.9" fill="#ccc"/>
<ellipse cx="232.5" cy="662.2" rx="0.6" ry="0.9" fill="#ccc"/>
<path d="M329.20,636.40 C330.32,636.80 331.78,638.92 332.90,640.10 C334.02,641.28 335.12,641.93 335.90,643.50 C336.68,645.07 337.37,647.03 337.60,649.50 C337.83,651.97 337.63,655.60 337.30,658.30 C336.97,661.00 336.22,663.35 335.60,665.70 C334.98,668.05 335.03,671.25 333.60,672.40 C332.17,673.55 329.13,672.60 327.00,672.60 C324.87,672.60 322.40,673.45 320.80,672.40 C319.20,671.35 318.58,668.65 317.40,666.30 C316.22,663.95 314.32,660.65 313.70,658.30 C313.08,655.95 313.20,654.12 313.70,652.20 C314.20,650.28 315.30,648.60 316.70,646.80 C318.10,645.00 320.52,642.92 322.10,641.40 C323.68,639.88 325.02,638.53 326.20,637.70 C327.38,636.87 328.08,636.00 329.20,636.40Z" fill="#fff" stroke="#000" stroke-width="0.9"/>
<path d="M328.80,640.10 C330.25,640.07 331.02,641.15 332.20,642.60 C333.38,644.05 335.30,646.40 335.90,648.80 C336.50,651.20 335.92,654.30 335.80,657.00 C335.68,659.70 335.75,662.97 335.20,665.00 C334.65,667.03 333.45,668.30 332.50,669.20 C331.55,670.10 331.00,670.32 329.50,670.40 C328.00,670.48 325.17,670.60 323.50,669.70 C321.83,668.80 320.40,666.90 319.50,665.00 C318.60,663.10 318.23,661.00 318.10,658.30 C317.97,655.60 317.80,651.38 318.70,648.80 C319.60,646.22 321.82,644.25 323.50,642.80 C325.18,641.35 327.35,640.13 328.80,640.10Z" fill="#999" stroke="#111" stroke-width="0.85"/>
<path d="M328.62,641.04 C329.92,641.01 330.61,642.03 331.67,643.40 C332.74,644.76 334.46,646.97 335.00,649.23 C335.54,651.49 335.01,654.40 334.91,656.94 C334.81,659.48 334.87,662.55 334.37,664.47 C333.88,666.38 332.80,667.57 331.94,668.42 C331.09,669.26 330.60,669.47 329.25,669.54 C327.90,669.62 325.35,669.73 323.85,668.89 C322.36,668.04 321.07,666.25 320.26,664.47 C319.45,662.68 319.12,660.70 319.00,658.16 C318.88,655.62 318.73,651.66 319.54,649.23 C320.35,646.80 322.34,644.95 323.85,643.58 C325.37,642.22 327.31,641.08 328.62,641.04Z" fill="#444"/>
<path d="M328.44,641.99 C329.59,641.96 330.20,642.91 331.15,644.19 C332.09,645.47 333.62,647.54 334.10,649.66 C334.58,651.77 334.11,654.50 334.02,656.88 C333.93,659.26 333.98,662.14 333.54,663.93 C333.10,665.72 332.15,666.84 331.39,667.63 C330.63,668.42 330.19,668.62 328.99,668.69 C327.80,668.76 325.54,668.87 324.21,668.07 C322.88,667.28 321.73,665.60 321.02,663.93 C320.30,662.26 320.01,660.41 319.90,658.03 C319.79,655.65 319.66,651.93 320.38,649.66 C321.10,647.38 322.86,645.65 324.21,644.37 C325.55,643.09 327.28,642.02 328.44,641.99Z" fill="#1a1a1a"/>
<path d="M328.21,643.14 C329.19,643.12 329.71,643.99 330.51,645.17 C331.30,646.34 332.60,648.24 333.00,650.18 C333.40,652.12 333.01,654.63 332.93,656.81 C332.85,658.99 332.90,661.63 332.53,663.28 C332.16,664.92 331.35,665.95 330.71,666.67 C330.07,667.40 329.70,667.58 328.69,667.64 C327.67,667.71 325.76,667.81 324.64,667.08 C323.52,666.35 322.55,664.81 321.94,663.28 C321.34,661.74 321.09,660.04 321.00,657.86 C320.91,655.68 320.80,652.27 321.40,650.18 C322.01,648.09 323.51,646.50 324.64,645.33 C325.78,644.15 327.24,643.17 328.21,643.14Z" fill="#080808"/>
<path d="M423.20,640.20 C424.60,640.32 426.55,640.47 427.90,641.40 C429.25,642.33 430.63,644.07 431.30,645.80 C431.97,647.53 431.90,649.67 431.90,651.80 C431.90,653.93 431.68,656.35 431.30,658.60 C430.92,660.85 430.38,663.28 429.60,665.30 C428.82,667.32 427.72,669.47 426.60,670.70 C425.48,671.93 424.13,672.60 422.90,672.70 C421.67,672.80 420.62,672.42 419.20,671.30 C417.78,670.18 415.87,667.90 414.40,666.00 C412.93,664.10 411.35,661.93 410.40,659.90 C409.45,657.87 408.70,655.70 408.70,653.80 C408.70,651.90 409.22,650.28 410.40,648.50 C411.58,646.72 414.28,644.40 415.80,643.10 C417.32,641.80 418.27,641.18 419.50,640.70 C420.73,640.22 421.80,640.08 423.20,640.20Z" fill="#fff" stroke="#000" stroke-width="0.9"/>
<path d="M422.89,642.11 C424.04,642.21 425.64,642.34 426.74,643.16 C427.85,643.97 428.98,645.48 429.53,646.99 C430.07,648.50 430.02,650.36 430.02,652.21 C430.02,654.07 429.84,656.18 429.53,658.13 C429.21,660.09 428.78,662.21 428.13,663.97 C427.49,665.72 426.59,667.60 425.68,668.67 C424.76,669.75 423.66,670.33 422.65,670.41 C421.64,670.50 420.78,670.17 419.62,669.19 C418.46,668.22 416.89,666.23 415.69,664.58 C414.48,662.92 413.19,661.04 412.41,659.27 C411.63,657.50 411.02,655.61 411.02,653.96 C411.02,652.30 411.44,650.89 412.41,649.34 C413.38,647.79 415.59,645.77 416.83,644.64 C418.07,643.51 418.85,642.97 419.86,642.55 C420.87,642.13 421.75,642.01 422.89,642.11Z" fill="#999" stroke="#111" stroke-width="0.85"/>
<path d="M422.76,642.93 C423.80,643.03 425.24,643.15 426.24,643.91 C427.25,644.67 428.27,646.09 428.77,647.50 C429.26,648.91 429.21,650.65 429.21,652.39 C429.21,654.13 429.05,656.10 428.77,657.94 C428.48,659.77 428.09,661.75 427.51,663.40 C426.92,665.04 426.11,666.80 425.28,667.80 C424.45,668.81 423.45,669.35 422.54,669.43 C421.62,669.51 420.85,669.20 419.79,668.29 C418.74,667.38 417.32,665.52 416.24,663.97 C415.15,662.42 413.98,660.65 413.27,659.00 C412.57,657.34 412.01,655.57 412.01,654.02 C412.01,652.47 412.39,651.15 413.27,649.70 C414.15,648.25 416.15,646.36 417.27,645.30 C418.40,644.24 419.10,643.73 420.02,643.34 C420.93,642.95 421.72,642.84 422.76,642.93Z" fill="#444"/>
<path d="M422.63,643.75 C423.56,643.84 424.85,643.95 425.75,644.66 C426.64,645.37 427.56,646.69 428.01,648.01 C428.45,649.33 428.40,650.95 428.40,652.57 C428.40,654.19 428.26,656.03 428.01,657.74 C427.75,659.45 427.40,661.30 426.88,662.83 C426.36,664.36 425.63,665.99 424.89,666.93 C424.14,667.87 423.25,668.38 422.43,668.45 C421.61,668.53 420.91,668.24 419.97,667.39 C419.03,666.54 417.76,664.80 416.79,663.36 C415.81,661.92 414.76,660.27 414.13,658.72 C413.50,657.18 413.00,655.53 413.00,654.09 C413.00,652.64 413.35,651.42 414.13,650.06 C414.92,648.70 416.71,646.94 417.72,645.96 C418.72,644.97 419.35,644.50 420.17,644.13 C420.99,643.76 421.70,643.66 422.63,643.75Z" fill="#1a1a1a"/>
<path d="M422.47,644.75 C423.26,644.83 424.37,644.94 425.14,645.58 C425.91,646.23 426.70,647.43 427.08,648.63 C427.46,649.83 427.42,651.31 427.42,652.78 C427.42,654.26 427.29,655.93 427.08,657.49 C426.86,659.05 426.55,660.73 426.11,662.13 C425.66,663.53 425.04,665.02 424.40,665.87 C423.77,666.72 423.00,667.18 422.30,667.25 C421.59,667.32 421.00,667.06 420.19,666.28 C419.39,665.51 418.29,663.93 417.46,662.62 C416.63,661.30 415.72,659.80 415.18,658.39 C414.64,656.98 414.22,655.48 414.22,654.17 C414.22,652.85 414.51,651.73 415.18,650.50 C415.86,649.27 417.39,647.66 418.26,646.76 C419.12,645.86 419.66,645.43 420.36,645.10 C421.06,644.77 421.67,644.67 422.47,644.75Z" fill="#080808"/>
<ellipse cx="423.0" cy="652.4" rx="0.6" ry="0.9" fill="#ccc"/>
<ellipse cx="327.6" cy="620.2" rx="3.6" ry="6.4" fill="none" stroke="#000" stroke-width="0.9"/>
</svg></body></html>
